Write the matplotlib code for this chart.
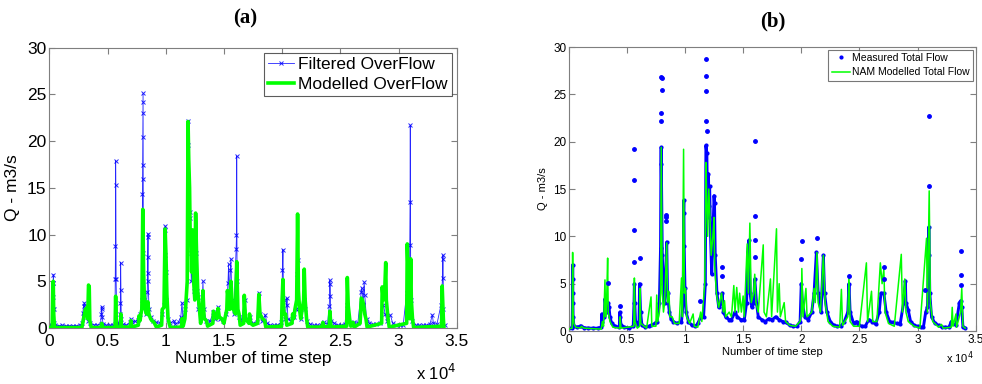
import matplotlib
matplotlib.use("Agg")
import matplotlib.pyplot as plt
from matplotlib.ticker import FuncFormatter

# ---------------- data (a) ----------------
filtered_t = [0, 150, 250, 300, 320, 335, 345, 360, 380, 420, 500,
              800, 1100, 1400, 1700, 2000, 2300, 2600, 2800, 2880, 2950, 3020, 3080, 3200, 3350, 3500,
              3800, 4100, 4400, 4470, 4490, 4510, 4540, 4620, 4900, 5200, 5500,
              5640, 5670, 5685, 5700, 5715, 5740, 5800, 5950, 6090, 6110, 6130, 6150, 6180, 6300,
              6600, 6900, 7000, 7100, 7400, 7600, 7800, 7950, 8000, 8015, 8025, 8035, 8045, 8055,
              8065, 8080, 8150, 8300, 8420, 8440, 8460, 8470, 8480, 8500, 8560, 8700, 8900, 9200,
              9500, 9700, 9850, 9900, 9920, 9940, 9960, 9990, 10050, 10200, 10400, 10700, 10800,
              11100, 11300, 11400, 11480, 11650, 11800, 11880, 11900, 11920, 11950, 12000, 12080,
              12100, 12140, 12200, 12300, 12400, 12550, 12600, 12650, 12800, 13000, 13150, 13200,
              13260, 13500, 13800, 14100, 14250, 14500, 14650, 14900, 15200, 15350, 15400, 15480,
              15550, 15600, 15680, 15850, 16050, 16080, 16100, 16130, 16300, 16500, 16800, 16950,
              17200, 17500, 17800, 18000, 18100, 18300, 18550, 18700, 19000, 19300, 19600, 19900,
              20030, 20070, 20120, 20250, 20380, 20420, 20500, 20800, 21000, 21200, 21300, 21330,
              21400, 21600, 21850, 21950, 22100, 22400, 22700, 23000, 23300, 23600, 23900, 24050,
              24080, 24100, 24120, 24200, 24500, 24800, 25100, 25400, 25550, 25650, 25900, 26200,
              26500, 26800, 26850, 26950, 27050, 27100, 27250, 27500, 27800, 28100, 28400, 28700,
              28850, 29000, 29300, 29500, 29800, 30100, 30400, 30700, 30800, 30950, 30970, 30990,
              31010, 31050, 31200, 31500, 31800, 32100, 32400, 32700, 32900, 33000, 33300, 33650,
              33780, 33800, 33820, 33860, 33950]
filtered_q = [0.25, 0.3, 0.3, 2.0, 3.3, 4.8, 5.7, 4.8, 2.0, 0.5, 0.3,
              0.25, 0.3, 0.25, 0.25, 0.25, 0.25, 0.3, 0.5, 1.6, 2.4, 2.7, 1.8, 1.2, 0.8, 0.5,
              0.35, 0.3, 0.4, 1.5, 2.0, 2.3, 1.2, 0.4, 0.3, 0.3, 0.3,
              0.4, 5.2, 8.8, 17.9, 15.3, 5.2, 0.5, 0.4, 1.5, 2.7, 7.0, 4.1, 1.0, 0.4,
              0.3, 0.6, 1.0, 0.6, 0.7, 0.9, 1.5, 3.0, 14.3, 17.4, 20.4, 23.0, 24.2, 25.1,
              16.0, 8.0, 3.0, 1.5, 3.9, 5.9, 7.6, 9.7, 10.1, 5.0, 2.0, 1.2, 0.8, 0.6,
              0.5, 1.5, 2.5, 5.2, 7.8, 10.5, 10.9, 6.0, 3.0, 1.0, 0.5, 0.8, 0.4,
              0.6, 1.2, 2.7, 1.0, 2.0, 3.0, 13.8, 19.6, 22.2, 12.0, 9.0, 11.8,
              12.4, 8.0, 5.0, 8.0, 4.0, 6.8, 8.0, 4.0, 2.0, 1.2, 3.3, 5.0,
              2.0, 0.8, 0.7, 1.7, 1.0, 2.2, 1.0, 0.8, 1.5, 4.8, 6.8, 3.0,
              6.2, 7.4, 3.0, 1.5, 8.5, 10.0, 18.4, 5.0, 1.2, 0.8, 3.0, 1.0,
              1.2, 0.5, 0.6, 3.8, 1.5, 0.7, 1.4, 0.5, 0.3, 0.3, 0.3, 0.6,
              6.2, 8.4, 3.0, 1.0, 2.5, 3.2, 1.0, 0.8, 1.2, 2.0, 5.8, 7.3,
              2.0, 1.0, 3.0, 2.0, 0.8, 0.4, 0.3, 0.3, 0.3, 0.6, 0.4, 2.4,
              3.4, 5.1, 4.7, 0.8, 0.5, 0.3, 0.3, 0.4, 2.5, 1.0, 0.5, 0.6,
              0.5, 3.9, 4.3, 2.5, 4.9, 3.5, 1.0, 0.5, 0.4, 0.4, 0.5, 2.5,
              1.5, 0.8, 1.4, 0.5, 0.3, 0.3, 0.3, 3.8, 1.5, 5.6, 8.9, 13.5,
              21.7, 3.0, 0.8, 0.3, 0.3, 0.3, 0.3, 0.4, 1.4, 0.5, 0.4, 2.5,
              5.4, 7.4, 7.8, 2.0, 0.3]

modelled_t = [0, 250, 310, 340, 380, 450, 2800, 2950, 3100, 3250, 3300, 3370, 3430, 3480, 3600,
              4450, 4500, 4560, 5650, 5700, 5760, 6100, 6150, 6200, 6950, 7000, 7100, 7650, 7700,
              7800, 7870, 7950, 8030, 8100, 8150, 8250, 8350, 8470, 8550, 8700, 8800, 9000, 9200,
              9650, 9700, 9850, 9950, 10020, 10100, 10200, 10300, 10400, 11350, 11400, 11500,
              11650, 11700, 11850, 11920, 11980, 12050, 12100, 12150, 12220, 12300, 12400, 12500,
              12570, 12650, 12750, 12900, 13000, 13150, 13200, 13300, 13500, 13600, 14050, 14100,
              14200, 14400, 14500, 14600, 14800, 15000, 15250, 15300, 15400, 15500, 15600, 15700,
              15800, 16000, 16100, 16200, 16300, 16400, 16700, 16750, 16850, 17150, 17200, 17300,
              17500, 17900, 18000, 18100, 18300, 18500, 18600, 19950, 20000, 20070, 20150, 20300,
              20400, 20850, 20900, 21000, 21100, 21250, 21330, 21400, 21500, 21600, 21850, 21900,
              21980, 22100, 22200, 23400, 23500, 23600, 24050, 24100, 24200, 25550, 25600, 25680,
              25800, 25900, 26050, 26100, 26200, 26700, 26800, 26900, 27000, 27100, 27200, 27300,
              28550, 28600, 28700, 28800, 28900, 28950, 29100, 29200, 30700, 30750, 30850, 30950,
              31050, 31100, 31200, 31300, 33700, 33750, 33850, 33900]
modelled_q = [0.05, 0.1, 4.8, 5.0, 1.5, 0.05, 0.05, 1.0, 2.0, 2.2, 1.0, 4.6, 4.4, 0.8, 0.05,
              0.05, 0.5, 0.05, 0.05, 3.4, 0.1, 0.1, 1.5, 0.1, 0.1, 0.8, 0.1, 0.3, 1.3,
              0.8, 1.5, 2.0, 12.7, 6.0, 4.0, 2.0, 1.5, 2.8, 1.5, 1.0, 0.8, 0.6, 0.1,
              0.3, 2.0, 2.2, 10.6, 8.0, 3.6, 1.0, 0.5, 0.05, 0.1, 1.0, 0.2,
              1.0, 2.0, 5.0, 22.1, 18.0, 15.0, 10.0, 10.5, 6.0, 10.5, 5.0, 3.0,
              12.3, 8.0, 4.0, 2.0, 0.5, 2.0, 4.0, 1.0, 0.8, 0.2, 0.5, 1.8,
              1.5, 1.0, 2.1, 1.2, 1.0, 0.5, 2.0, 4.0, 3.0, 2.0, 5.0, 3.0,
              2.0, 1.5, 7.1, 2.0, 1.5, 0.3, 0.5, 3.5, 1.0, 0.5, 1.5, 0.5,
              0.3, 0.5, 3.6, 1.5, 1.0, 0.8, 0.1, 0.2, 3.0, 5.2, 1.5, 1.5,
              0.3, 0.5, 1.5, 1.0, 2.0, 3.0, 12.2, 4.0, 2.0, 1.0, 3.0, 6.3,
              3.0, 1.0, 0.1, 0.1, 0.6, 0.1, 0.2, 1.8, 0.1, 0.2, 5.4, 2.4,
              1.0, 0.2, 0.3, 0.6, 0.1, 0.5, 3.2, 3.0, 2.5, 1.5, 1.0, 0.1,
              0.5, 4.4, 3.0, 3.5, 7.0, 3.0, 1.0, 0.1, 0.5, 9.0, 5.0, 1.0,
              7.4, 3.0, 1.0, 0.05, 0.2, 4.5, 1.0, 0.05]

# ---------------- data (b) ----------------
measured_t = [0, 300, 330, 340, 345, 355, 380, 450, 700, 1000, 1100, 1300, 1700, 2100, 2500,
              2800, 2840, 2900, 3050, 3120, 3200, 3300, 3400, 3470, 3550, 3700, 4000, 4350, 4400,
              4430, 4500, 4800, 5200, 5550, 5620, 5650, 5680, 5750, 5900, 6050, 6100, 6180, 6300,
              6600, 6900, 7100, 7400, 7600, 7800, 7900, 7930, 7950, 8050, 8150, 8250, 8430, 8500,
              8650, 8800, 9000, 9300, 9700, 9850, 9880, 9900, 9930, 10000, 10100, 10300, 10600,
              10900, 11100, 11350, 11600, 11750, 11800, 11880, 11950, 12020, 12060, 12120, 12200,
              12300, 12450, 12500, 12540, 12600, 12750, 12900, 13100, 13200, 13300, 13500, 13800,
              14000, 14300, 14500, 14800, 15100, 15300, 15400, 15500, 15600, 15750, 15900, 16000,
              16150, 16300, 16600, 16900, 17200, 17500, 17800, 18100, 18400, 18700, 19000, 19300,
              19600, 19900, 20000, 20100, 20300, 20600, 20900, 21100, 21300, 21450, 21700, 21900,
              22000, 22200, 22500, 22800, 23100, 23400, 23700, 24000, 24100, 24200, 24500, 24750,
              24900, 25200, 25500, 25800, 26100, 26400, 26700, 26850, 27100, 27300, 27600, 27900,
              28200, 28500, 28800, 28950, 29000, 29200, 29400, 29700, 30000, 30300, 30500, 30700,
              30850, 30950, 30970, 31050, 31200, 31500, 31800, 32100, 32400, 32700, 32900, 33000,
              33300, 33600, 33700, 33800, 33900, 34100]
measured_q = [0.3, 0.3, 3.0, 5.5, 7.0, 4.0, 1.5, 0.5, 0.4, 0.5, 0.5, 0.35, 0.3, 0.3, 0.3,
              0.4, 1.8, 1.0, 1.5, 3.4, 2.5, 2.0, 3.0, 2.5, 1.5, 0.8, 0.5, 0.4, 2.0,
              1.5, 0.6, 0.4, 0.3, 0.5, 3.0, 5.0, 3.0, 1.0, 0.6, 1.0, 5.0, 2.0, 0.6,
              0.4, 0.5, 0.6, 0.8, 1.0, 3.0, 8.8, 17.6, 19.4, 8.0, 5.0, 3.0, 9.4, 4.0,
              2.0, 1.3, 1.0, 0.8, 1.0, 3.0, 12.5, 13.8, 9.0, 4.5, 2.0, 1.0, 0.6,
              0.5, 0.8, 1.5, 1.5, 5.0, 19.6, 18.8, 12.0, 16.6, 13.2, 15.3, 10.0,
              6.0, 12.0, 14.3, 13.5, 8.0, 4.0, 2.5, 3.0, 4.0, 2.0, 1.5, 1.2,
              1.2, 2.0, 1.5, 1.2, 1.2, 3.0, 8.3, 9.6, 4.0, 2.5, 3.0, 5.5,
              3.0, 1.5, 1.2, 1.0, 1.3, 1.2, 1.5, 1.2, 1.0, 0.9, 0.6, 0.5,
              0.5, 1.0, 5.0, 3.0, 1.5, 1.2, 2.0, 4.0, 8.3, 4.0, 2.0, 8.0,
              4.0, 2.0, 1.0, 0.6, 0.5, 0.5, 1.0, 2.0, 5.0, 2.0, 0.8, 1.0,
              0.7, 0.5, 0.5, 1.2, 1.0, 0.7, 2.0, 4.0, 4.0, 2.0, 1.0, 0.9,
              0.8, 0.7, 3.0, 5.3, 3.0, 2.2, 1.0, 0.6, 0.5, 0.4, 0.4, 2.0,
              2.5, 8.0, 11.0, 4.0, 1.5, 0.8, 0.6, 0.4, 0.4, 0.4, 1.0, 0.8,
              0.6, 3.0, 3.2, 2.5, 0.4, 0.3]
# isolated high readings of the measured flow (dots only)
measured_peak_t = [3400, 4400, 5600, 5620, 5640, 5650, 6130, 7950, 7960, 7970, 7990, 8020,
                   8380, 8400, 8410, 11300, 11820, 11830, 11840, 11850, 11870, 13150, 13200,
                   16000, 16020, 16040, 16060, 20000, 20020, 21350, 24100, 27100, 27150,
                   30650, 30990, 31000, 33700, 33720, 33750]
measured_peak_q = [5.1, 2.6, 7.3, 10.7, 15.9, 19.2, 7.7, 22.2, 23.0, 26.8, 26.7, 25.5,
                   11.6, 12.3, 12.0, 3.2, 22.2, 25.4, 26.9, 28.7, 21.1, 6.8, 5.8,
                   7.8, 9.6, 12.2, 20.1, 7.6, 9.5, 9.8, 5.8, 6.8, 5.5,
                   4.3, 15.3, 22.7, 4.9, 5.9, 8.5]

nam_t = [0, 300, 340, 380, 450, 600, 1000, 1100, 1300, 2800, 2900, 3000, 3120, 3180, 3260,
         3350, 3400, 3550, 3800, 4400, 4420, 4500, 5600, 5650, 5700, 5900, 6100, 6130, 6200,
         6700, 7080, 7150, 7500, 7570, 7650, 7800, 7900, 7960, 8050, 8150, 8250, 8430, 8500,
         8620, 8700, 8900, 9100, 9500, 9700, 9780, 9880, 9950, 10050, 10150, 10400, 10700,
         10800, 11100, 11350, 11450, 11700, 11800, 11850, 11950, 12050, 12150, 12250, 12400,
         12500, 12550, 12700, 12900, 13150, 13300, 13400, 13500, 13800, 14000, 14200, 14300,
         14450, 14600, 14700, 14850, 15000, 15100, 15350, 15450, 15580, 15700, 15900, 16000,
         16100, 16300, 16730, 16800, 17000, 17350, 17450, 17870, 17950, 18100, 18200, 18530,
         18650, 19000, 19500, 19900, 20000, 20050, 20150, 20400, 20500, 20900, 21100, 21200,
         21350, 21450, 21650, 21900, 22050, 22300, 22700, 23300, 23450, 23550, 24000, 24100,
         24200, 24500, 25000, 25600, 25700, 26040, 26150, 26500, 26800, 26950, 27100, 27200,
         27500, 28000, 28600, 28700, 28900, 29000, 29200, 29700, 30200, 30770, 30850, 31000,
         31100, 31300, 31800, 32060, 32200, 32900, 32980, 33050, 33300, 33350, 33700, 33800,
         33900, 34100]
nam_q = [0.2, 0.3, 8.3, 2.0, 0.8, 0.4, 0.3, 0.5, 0.3, 0.2, 1.0, 0.5, 5.4, 1.5, 3.0,
         7.7, 2.0, 1.0, 0.4, 0.3, 1.5, 0.3, 0.5, 5.6, 1.0, 0.3, 0.5, 4.5, 0.8,
         0.3, 3.6, 0.5, 0.5, 3.8, 1.0, 2.0, 4.0, 19.4, 4.0, 2.0, 3.0, 9.3, 3.0,
         4.2, 1.5, 1.5, 0.8, 0.8, 5.6, 1.5, 19.2, 4.0, 4.5, 1.5, 0.8, 1.8,
         0.5, 0.4, 2.0, 1.0, 5.0, 17.8, 15.0, 10.0, 15.0, 12.0, 8.0, 10.0,
         12.0, 7.0, 4.0, 2.5, 4.0, 2.0, 3.2, 1.5, 2.0, 1.5, 4.8, 2.0,
         4.6, 2.0, 4.0, 2.0, 3.7, 1.5, 9.2, 4.0, 11.4, 3.0, 4.0, 6.0,
         3.0, 2.0, 9.1, 2.0, 1.5, 5.5, 1.5, 10.8, 2.0, 5.0, 1.5, 3.0,
         1.0, 0.6, 0.5, 1.0, 2.0, 6.6, 1.5, 4.5, 1.5, 2.0, 4.5, 3.0,
         8.3, 3.0, 2.0, 8.0, 3.0, 1.0, 0.5, 0.4, 4.4, 0.6, 1.5, 5.8,
         1.0, 0.5, 0.5, 7.2, 1.0, 4.2, 1.0, 1.0, 7.2, 5.0, 6.5, 2.0,
         0.8, 0.5, 8.1, 2.0, 5.5, 2.0, 1.0, 0.5, 0.3, 9.8, 2.0, 14.8,
         3.0, 1.0, 0.4, 0.7, 0.3, 0.4, 2.5, 0.5, 1.8, 0.4, 2.0, 4.5,
         0.5, 0.3]

x_ticks = [0, 5000, 10000, 15000, 20000, 25000, 30000, 35000]
y_ticks = [0, 5, 10, 15, 20, 25, 30]

# ---------------- style ----------------
plt.rcParams["font.family"] = ["Liberation Sans", "DejaVu Sans"]

BLUE = "#0000ff"
GREEN = "#00ff00"
FRAME = "#7f7f7f"

fig = plt.figure(figsize=(9.82, 3.84), dpi=100)
ax1 = fig.add_axes([0.0502, 0.1458, 0.4149, 0.7300])
ax2 = fig.add_axes([0.5791, 0.1380, 0.4145, 0.7396])

fmt = FuncFormatter(lambda v, p: f"{v / 1e4:g}")


def style(ax, fs, pad_x, pad_y):
    ax.set_xlim(0, 35000)
    ax.set_ylim(0, 30)
    ax.set_xticks(x_ticks)
    ax.set_yticks(y_ticks)
    ax.xaxis.set_major_formatter(fmt)
    ax.tick_params(direction="in", top=True, right=True, length=4, width=0.8,
                   color=FRAME, labelsize=fs, labelcolor="black")
    ax.tick_params(axis="x", pad=pad_x)
    ax.tick_params(axis="y", pad=pad_y)
    for s in ax.spines.values():
        s.set_color(FRAME)
        s.set_linewidth(0.8)


# ---- panel (a)
ax1.plot(filtered_t, filtered_q, color=BLUE, lw=0.6, marker="x", ms=3.5, mew=0.7,
         alpha=0.85, label="Filtered OverFlow", zorder=2)
ax1.plot(modelled_t, modelled_q, color=GREEN, lw=2.6, label="Modelled OverFlow", zorder=3)
style(ax1, 12.5, 4, 2)
ax1.set_xlabel("Number of time step", fontsize=12.5, labelpad=2)
ax1.set_ylabel("Q - m3/s", fontsize=12.5, labelpad=5)
leg1 = ax1.legend(loc="upper right", fontsize=12.5, frameon=True, fancybox=False,
                  borderpad=0.25, handlelength=1.5, handletextpad=0.2, labelspacing=0.25,
                  borderaxespad=0.3)
leg1.get_frame().set_edgecolor("#333333")
leg1.get_frame().set_linewidth(0.8)
ax1.text(1.0, -0.125, r"x 10$^4$", transform=ax1.transAxes, ha="right", va="top", fontsize=12)
fig.text(0.2495, 0.953, "(a)", ha="center", va="center", fontsize=15,
         fontweight="bold", family="Liberation Serif")

# ---- panel (b)
ax2.plot(measured_t, measured_q, color=BLUE, lw=2.1, zorder=2)
ax2.plot(measured_t, measured_q, color=BLUE, ls="none", marker=".", ms=4, zorder=2,
         label="Measured Total Flow")
ax2.plot(nam_t, nam_q, color=GREEN, lw=1.1, label="NAM Modelled Total Flow", zorder=3)
ax2.plot(measured_peak_t, measured_peak_q, color=BLUE, ls="none", marker=".", ms=5, zorder=4)
style(ax2, 8.5, 2, 1.5)
ax2.set_xlabel("Number of time step", fontsize=8, labelpad=1)
ax2.set_ylabel("Q - m3/s", fontsize=8, labelpad=4)
leg2 = ax2.legend(loc="upper right", fontsize=7.5, frameon=True, fancybox=False,
                  borderpad=0.3, handlelength=1.8, handletextpad=0.2, labelspacing=0.45,
                  borderaxespad=0.25)
leg2.get_frame().set_edgecolor("#555555")
leg2.get_frame().set_linewidth(0.8)
ax2.text(0.995, -0.065, r"x 10$^4$", transform=ax2.transAxes, ha="right", va="top", fontsize=8)
fig.text(0.7868, 0.945, "(b)", ha="center", va="center", fontsize=15,
         fontweight="bold", family="Liberation Serif")

fig.savefig("out.png", dpi=100)
